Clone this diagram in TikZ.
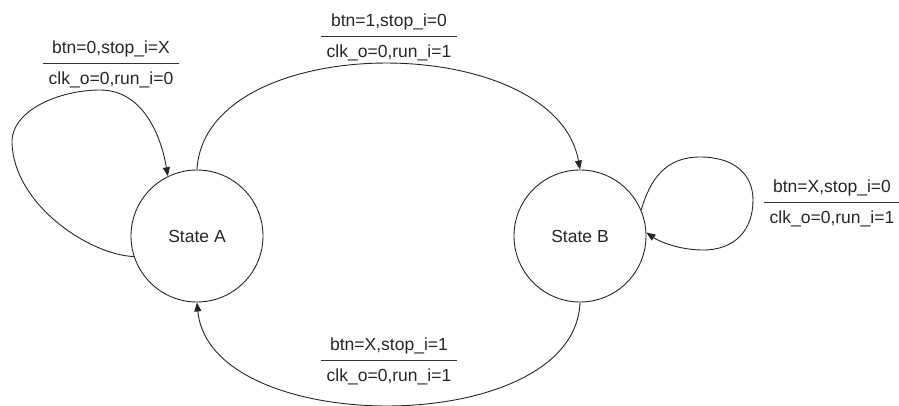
\documentclass[tikz,border=0pt]{standalone}
\usepackage{fontspec}
\setmainfont{Liberation Sans}
\usetikzlibrary{arrows.meta}
\usepackage{colortbl}
\newcommand{\lbl}[2]{{\fontsize{17.5}{21}\selectfont\renewcommand{\arraystretch}{1.43}\arrayrulecolor{black!80}\begin{tabular}{@{\hspace{6pt}}c@{\hspace{6pt}}}#1\\\hline #2\end{tabular}}}
\begin{document}
\begin{tikzpicture}[x=1pt,y=-1pt,
  state/.style={circle,draw=black!85,line width=0.9pt,minimum size=132pt,inner sep=0pt,font=\fontsize{17.5}{21}\selectfont,text=black!85},
  trans/.style={draw=black!85,line width=0.9pt,-{Triangle[length=9pt,width=7pt]}},
  lab/.style={inner sep=0pt,text=black!85}]
\useasboundingbox (0,0) rectangle (899,406);
\node[state] (A) at (197,236) {State A};
\node[state] (B) at (580,236) {State B};
\node[lab] (LA) at (111,63) {\lbl{btn=0,stop\_i=X}{clk\_o=0,run\_i=0}};
\node[lab] (LAB) at (389,36) {\lbl{btn=1,stop\_i=0}{clk\_o=0,run\_i=1}};
\node[lab] (LB) at (832,202) {\lbl{btn=X,stop\_i=0}{clk\_o=0,run\_i=1}};
\node[lab] (LBA) at (389,360) {\lbl{btn=X,stop\_i=1}{clk\_o=0,run\_i=1}};
% self loop A
\draw[trans] (A.198) .. controls (90,255) and (14,205) .. (12,143)
  .. controls (11,110) and (60,90) .. (100,90)
  .. controls (140,90) and (160,130) .. (A.116);
% A -> B
\draw[trans] (A.90) .. controls (205,29) and (555,29) .. (B.90);
% self loop B
\draw[trans] (B.23) .. controls (650,180) and (665,157) .. (700,157)
  .. controls (735,157) and (753,175) .. (753,200)
  .. controls (753,230) and (735,250) .. (703,250)
  .. controls (680,250) and (660,242) .. (B.3);
% B -> A
\draw[trans] (B.270) .. controls (575,439) and (210,439) .. (A.270);
\end{tikzpicture}
\end{document}
